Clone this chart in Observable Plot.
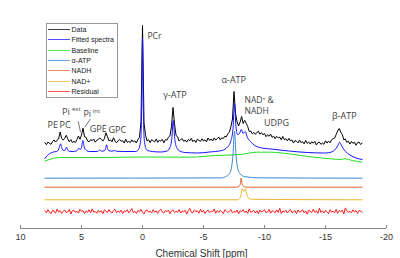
<!DOCTYPE html>
<html><head><meta charset="utf-8">
<script src="https://cdn.jsdelivr.net/npm/d3@7"></script>
<script src="https://cdn.jsdelivr.net/npm/@observablehq/plot@0.6"></script>
<style>
body{margin:0;background:#fff}
#wrap{position:relative;width:400px;height:258px}
#legend{position:absolute;left:45.5px;top:22.5px;width:72.5px;height:75px;box-sizing:border-box;border:1px solid #9a9a9a;background:#fff;padding-top:1px;font-family:"Liberation Sans",Arial,sans-serif;font-size:7px;color:#222}
.row{display:flex;align-items:center;height:10.3px;white-space:nowrap}
.sw{width:22px;height:0;border-top:1.5px solid;margin-left:1.5px;margin-right:1.5px;opacity:.75}
</style></head><body><div id="wrap"></div>
<script>
// ---- series meta ----
const seriesNames = ["Data","Fitted spectra","Baseline","α-ATP","NADH","NAD+","Residual"];
const seriesColors = ["#000000","#1414ff","#22dd22","#3a8ad0","#e0602c","#f0b430","#ff1a1a"];
const traceOffset = [76, 66, 66, 50.3, 41.3, 28.7, 17];
const xTicks = [10,5,0,-5,-10,-15,-20];
const xTitle = "Chemical Shift [ppm]";

// ---- measured data (sampled every 0.125 ppm from 8 to -18) ----
const gridStart = 8, gridStep = 0.125;
const dataVals = [
9.8,7.8,10.5,9.1,8.2,10.9,12.6,10.4,12.3,13.5,
20.5,14.1,12.4,14.2,17.2,13.6,10.7,12.9,9.9,11.2,
9.9,13.0,16.5,13.2,17.4,24.3,15.7,15.2,11.5,10.7,
12.9,11.8,13.6,10.3,12.3,13.1,14.4,13.3,11.4,13.8,
19.7,16.0,11.6,12.6,10.6,14.8,11.3,9.6,11.9,13.0,
11.2,11.9,9.4,13.3,10.2,11.1,9.8,12.7,10.5,11.7,
9.5,13.1,15.1,30.5,127,29.6,17.2,11.4,12.8,9.8,
12.9,11.7,10.6,13.5,10.1,12.1,11.3,13.1,9.7,12.9,
12.3,15.3,16.6,25.8,45,28.6,17.0,15.7,11.5,12.9,
13.9,11.2,12.3,10.4,13.1,11.7,14.1,10.8,12.5,10.1,
13.4,12.1,11.1,13.7,11.4,12.8,10.7,14.5,12.1,13.5,
11.5,14.6,12.5,13.8,15.4,12.6,14.7,14.0,16.3,15.7,
18.9,20.4,26.0,33.5,61,39.2,30.6,26.5,30.4,36,
29.0,32.2,29.2,25.9,20.9,21.5,18.6,20.2,18.1,20.1,
21.3,18.3,19.8,17.7,19.0,15.8,17.7,16.2,18.4,15.2,
16.4,13.8,16.2,14.6,15.4,12.7,16.1,12.8,13.8,11.6,
14.1,11.6,12.6,9.5,12.0,11.2,9.6,12.4,9.8,10.8,
8.6,12.1,9.1,10.5,8.4,10.7,9.3,11.1,7.5,9.9,
10.4,8.2,9.5,8.2,11.7,9.4,11.4,9.7,12.7,13.8,
14.5,18.0,21.6,24,20.3,18.1,12.6,13.6,10.1,11.3,
8.4,11.1,9.1,10.3,7.3,9.9,10.5,8.0,9.4];
const residualVals = [
0.5,-1.4,1.8,-0.3,-2.2,1.1,0.4,-1.7,2.4,-0.6,
0.9,-1.9,0.2,1.5,-1.1,-0.4,2.0,-2.5,0.7,1.3,
-0.8,0.3,-1.6,2.2,-0.2,1.0,-2.0,0.6,-0.9,1.7,
-1.3,2.6,-0.5,0.1,-1.8,1.2,-0.7,0.8,-2.3,1.6,
0.4,-1.0,1.9,-0.6,-1.5,0.9,2.1,-1.2,0.3,-0.8,
1.4,-2.1,0.7,-0.3,1.8,-1.4,0.5,3.0,-1.1,0.2,
-1.9,1.1,-0.4,2.3,-0.9,-2.4,0.8,1.5,-0.6,0.2,
-1.3,1.9,-0.7,0.6,-1.8,1.0,2.4,-0.5,-1.6,0.9,
-0.2,1.3,-2.2,0.4,1.7,-1.0,0.3,-0.9,2.0,-1.5,
0.6,-0.3,1.2,-2.6,0.9,3.1,-0.8,-1.4,1.6,-0.1,
0.7,-1.7,2.2,-0.6,1.0,-2.0,0.3,1.4,-1.2,0.5,
-0.4,2.5,-1.8,0.8,-0.9,1.3,-0.2,-2.1,1.7,0.4,
-1.1,0.6,2.0,-1.6,0.1,-0.7,1.5,-2.3,0.9,-0.3,
1.8,-1.0,0.5,-1.9,2.7,-0.8,0.2,1.1,-1.5,0.7,
-2.4,1.4,-0.6,0.3,1.9,-1.2,-0.4,2.2,-1.7,0.8,
0.1,-1.3,1.6,-0.9,3.2,-2.0,0.6,-0.5,1.2,-1.6,
0.4,2.1,-1.1,-0.3,0.9,-2.2,1.5,-0.7,0.3,1.7,
-1.4,0.6,-2.7,1.3,0.2,-0.8,2.4,-1.0,0.5,-1.8,
3.3,-0.9,0.7,-1.5,1.0,-0.2,-2.1,1.8,-0.6,0.4,
-1.2,2.0,-1.7,0.9,-0.4,1.4,-2.5,3.6,1.1,-0.9,
0.3,-1.4,1.7,-0.5,0.8,-1.9,1.2,0.2,-0.7];

// ---- fitted spectrum ----
const fittedPpm = [8.0,7.8,7.6,7.3,7.05,6.9,6.8,6.72,6.62,6.5,6.4,6.3,6.23,6.15,6.0,5.7,5.45,5.32,5.22,5.1,5.0,4.89,4.78,4.6,4.3,3.8,3.62,3.5,3.38,3.1,3.02,2.95,2.87,2.75,2.5,2.3,2.1,1.5,0.6,0.35,0.15,0.06,0.0,-0.06,-0.15,-0.35,-0.8,-1.5,-2.0,-2.25,-2.4,-2.52,-2.64,-2.8,-3.05,-3.5,-4.5,-5.5,-6.5,-7.0,-7.25,-7.42,-7.54,-7.66,-7.8,-7.95,-8.1,-8.25,-8.42,-8.6,-8.85,-9.2,-9.6,-10.5,-12,-13.5,-15,-15.5,-15.75,-15.95,-16.07,-16.15,-16.25,-16.4,-16.65,-17,-17.5,-18];
const fittedVals = [4,7,9,10.5,11,12.5,16,18.7,15,12,11.8,13.5,15.3,13,11.2,11,11.5,12.5,14.3,13,15,22,15.5,12,11,11,11.3,12.7,11.3,12,14,17.7,14,11.8,11.3,12,11.2,11,11,12.5,22,60,124,60,22,12.5,11,10.5,11.5,15,24,42,24,15,11.5,10,9.5,10.5,12,16,22,34,59,36,28,29,33,29,31,25,21,17,15,13.5,11.5,10,9.5,10.5,12.5,15.5,18.5,20.3,18.5,15,11,7.5,4.5,3];
// ---- baseline ----
const baselinePpm = [8.0,7.5,6.7,3.4,0,-3.9,-6.0,-8.0,-9.4,-10.5,-12.1,-14,-15.4,-16.2,-16.6,-17.2,-18];
const baselineVals = [1.5,3.5,5,5,5.5,5.3,7,8,10.3,10.3,8.5,5.3,3.7,3,3.7,2,0.3];
// ---- components ----
const atpPpm = [8,-6.5,-6.8,-7.1,-7.3,-7.42,-7.54,-7.66,-7.78,-8.0,-8.4,-9.5,-18];
const atpVals = [0,0.3,1.5,4,11,24,47,24,11,4.5,1.5,0.4,0];
const nadhPpm = [8,-7.7,-7.92,-8.02,-8.09,-8.16,-8.26,-8.5,-18];
const nadhVals = [0,0,1,3.5,9,3.5,1,0,0];
const nadPpm = [8,-7.8,-7.98,-8.08,-8.17,-8.3,-8.44,-8.54,-8.68,-8.95,-18];
const nadVals = [0,0,1.5,5,11,8.5,11,5.5,2,0.5,0];

// ---- annotations (ppm, height in plot units) ----
const labels = [
 {text:"PE", ppm:7.36, h:103},
 {text:"PC", ppm:6.35, h:103},
 {text:"Pi", ppm:6.28, h:116},
 {text:"Pi", ppm:4.53, h:114},
 {text:"GPE", ppm:3.63, h:99.7},
 {text:"GPC", ppm:2.07, h:98},
 {text:"γ-ATP", ppm:-2.66, h:133},
 {text:"α-ATP", ppm:-7.48, h:148},
 {text:"UDPG", ppm:-10.98, h:105},
 {text:"β-ATP", ppm:-16.54, h:112}
];
const supLabels = [
 {text:"ext", ppm:5.43, h:119},
 {text:"int", ppm:3.77, h:117}
];
const leftLabels = [
 {text:"PCr", ppm:-0.41, h:192},
 {text:"NAD⁺ &", ppm:-8.36, h:128.5},
 {text:"NADH", ppm:-8.36, h:117.5}
];
const leaders = [
 {ppm1:5.27, h1:107.3, ppm2:5.08, h2:96.3},
 {ppm1:4.26, h1:109.7, ppm2:4.73, h2:101.3}
];

// ---- build rows ----
const grid = d3.range(dataVals.length).map(i => gridStart - i*gridStep);
const rows = (ppms, vals, k) => ppms.map((p,i) => ({ppm:p, v: traceOffset[k] + vals[i]}));
const traces = [
  rows(grid, dataVals, 0),
  rows(fittedPpm, fittedVals, 1),
  rows(baselinePpm, baselineVals, 2),
  rows(atpPpm, atpVals, 3),
  rows(nadhPpm, nadhVals, 4),
  rows(nadPpm, nadVals, 5),
  rows(grid, residualVals, 6)
];
const curves = ["linear","monotone-x","monotone-x","monotone-x","monotone-x","monotone-x","linear"];
const annFont = "Open Sans, Noto Sans, sans-serif";

const chart = Plot.plot({
  width:400, height:258,
  marginLeft:20, marginRight:14, marginTop:20, marginBottom:30,
  style:{fontFamily:"Liberation Sans, Arial, sans-serif", background:"#fff", overflow:"visible"},
  x:{domain:[10,-20], label:null},
  y:{domain:[0,208], axis:null},
  marks:[
    Plot.axisX({ticks:xTicks, tickSize:0, tickPadding:5, fontSize:9, fill:"#333", label:null, tickFormat:d=>String(d)}),
    Plot.ruleY([0], {stroke:"#888"}),
    Plot.ruleX(xTicks, {stroke:"#888", insetTop:205}),
    Plot.text([xTitle], {frameAnchor:"bottom", dy:28, dx:-2, fontSize:10, fill:"#333"}),
    ...traces.map((t,k) => Plot.line(t, {x:"ppm", y:"v", stroke:seriesColors[k], strokeWidth:1, curve:curves[k]})),
    Plot.link(leaders, {x1:"ppm1", y1:"h1", x2:"ppm2", y2:"h2", stroke:"#555", strokeWidth:0.8}),
    Plot.text(labels, {x:"ppm", y:"h", text:"text", fontSize:9, fill:"#404040", fontFamily:annFont}),
    Plot.text(supLabels, {x:"ppm", y:"h", text:"text", fontSize:6, fill:"#404040", fontFamily:annFont}),
    Plot.text(leftLabels, {x:"ppm", y:"h", text:"text", fontSize:8.5, fill:"#404040", fontFamily:annFont, textAnchor:"start"})
  ]
});
const wrap = document.getElementById("wrap");
wrap.appendChild(chart);

// ---- legend ----
const lg = document.createElement("div");
lg.id = "legend";
seriesNames.forEach((n,i) => {
  const r = document.createElement("div"); r.className = "row";
  const s = document.createElement("div"); s.className = "sw"; s.style.borderTopColor = seriesColors[i];
  const t = document.createElement("span"); t.textContent = n;
  r.appendChild(s); r.appendChild(t); lg.appendChild(r);
});
wrap.appendChild(lg);
</script></body></html>
